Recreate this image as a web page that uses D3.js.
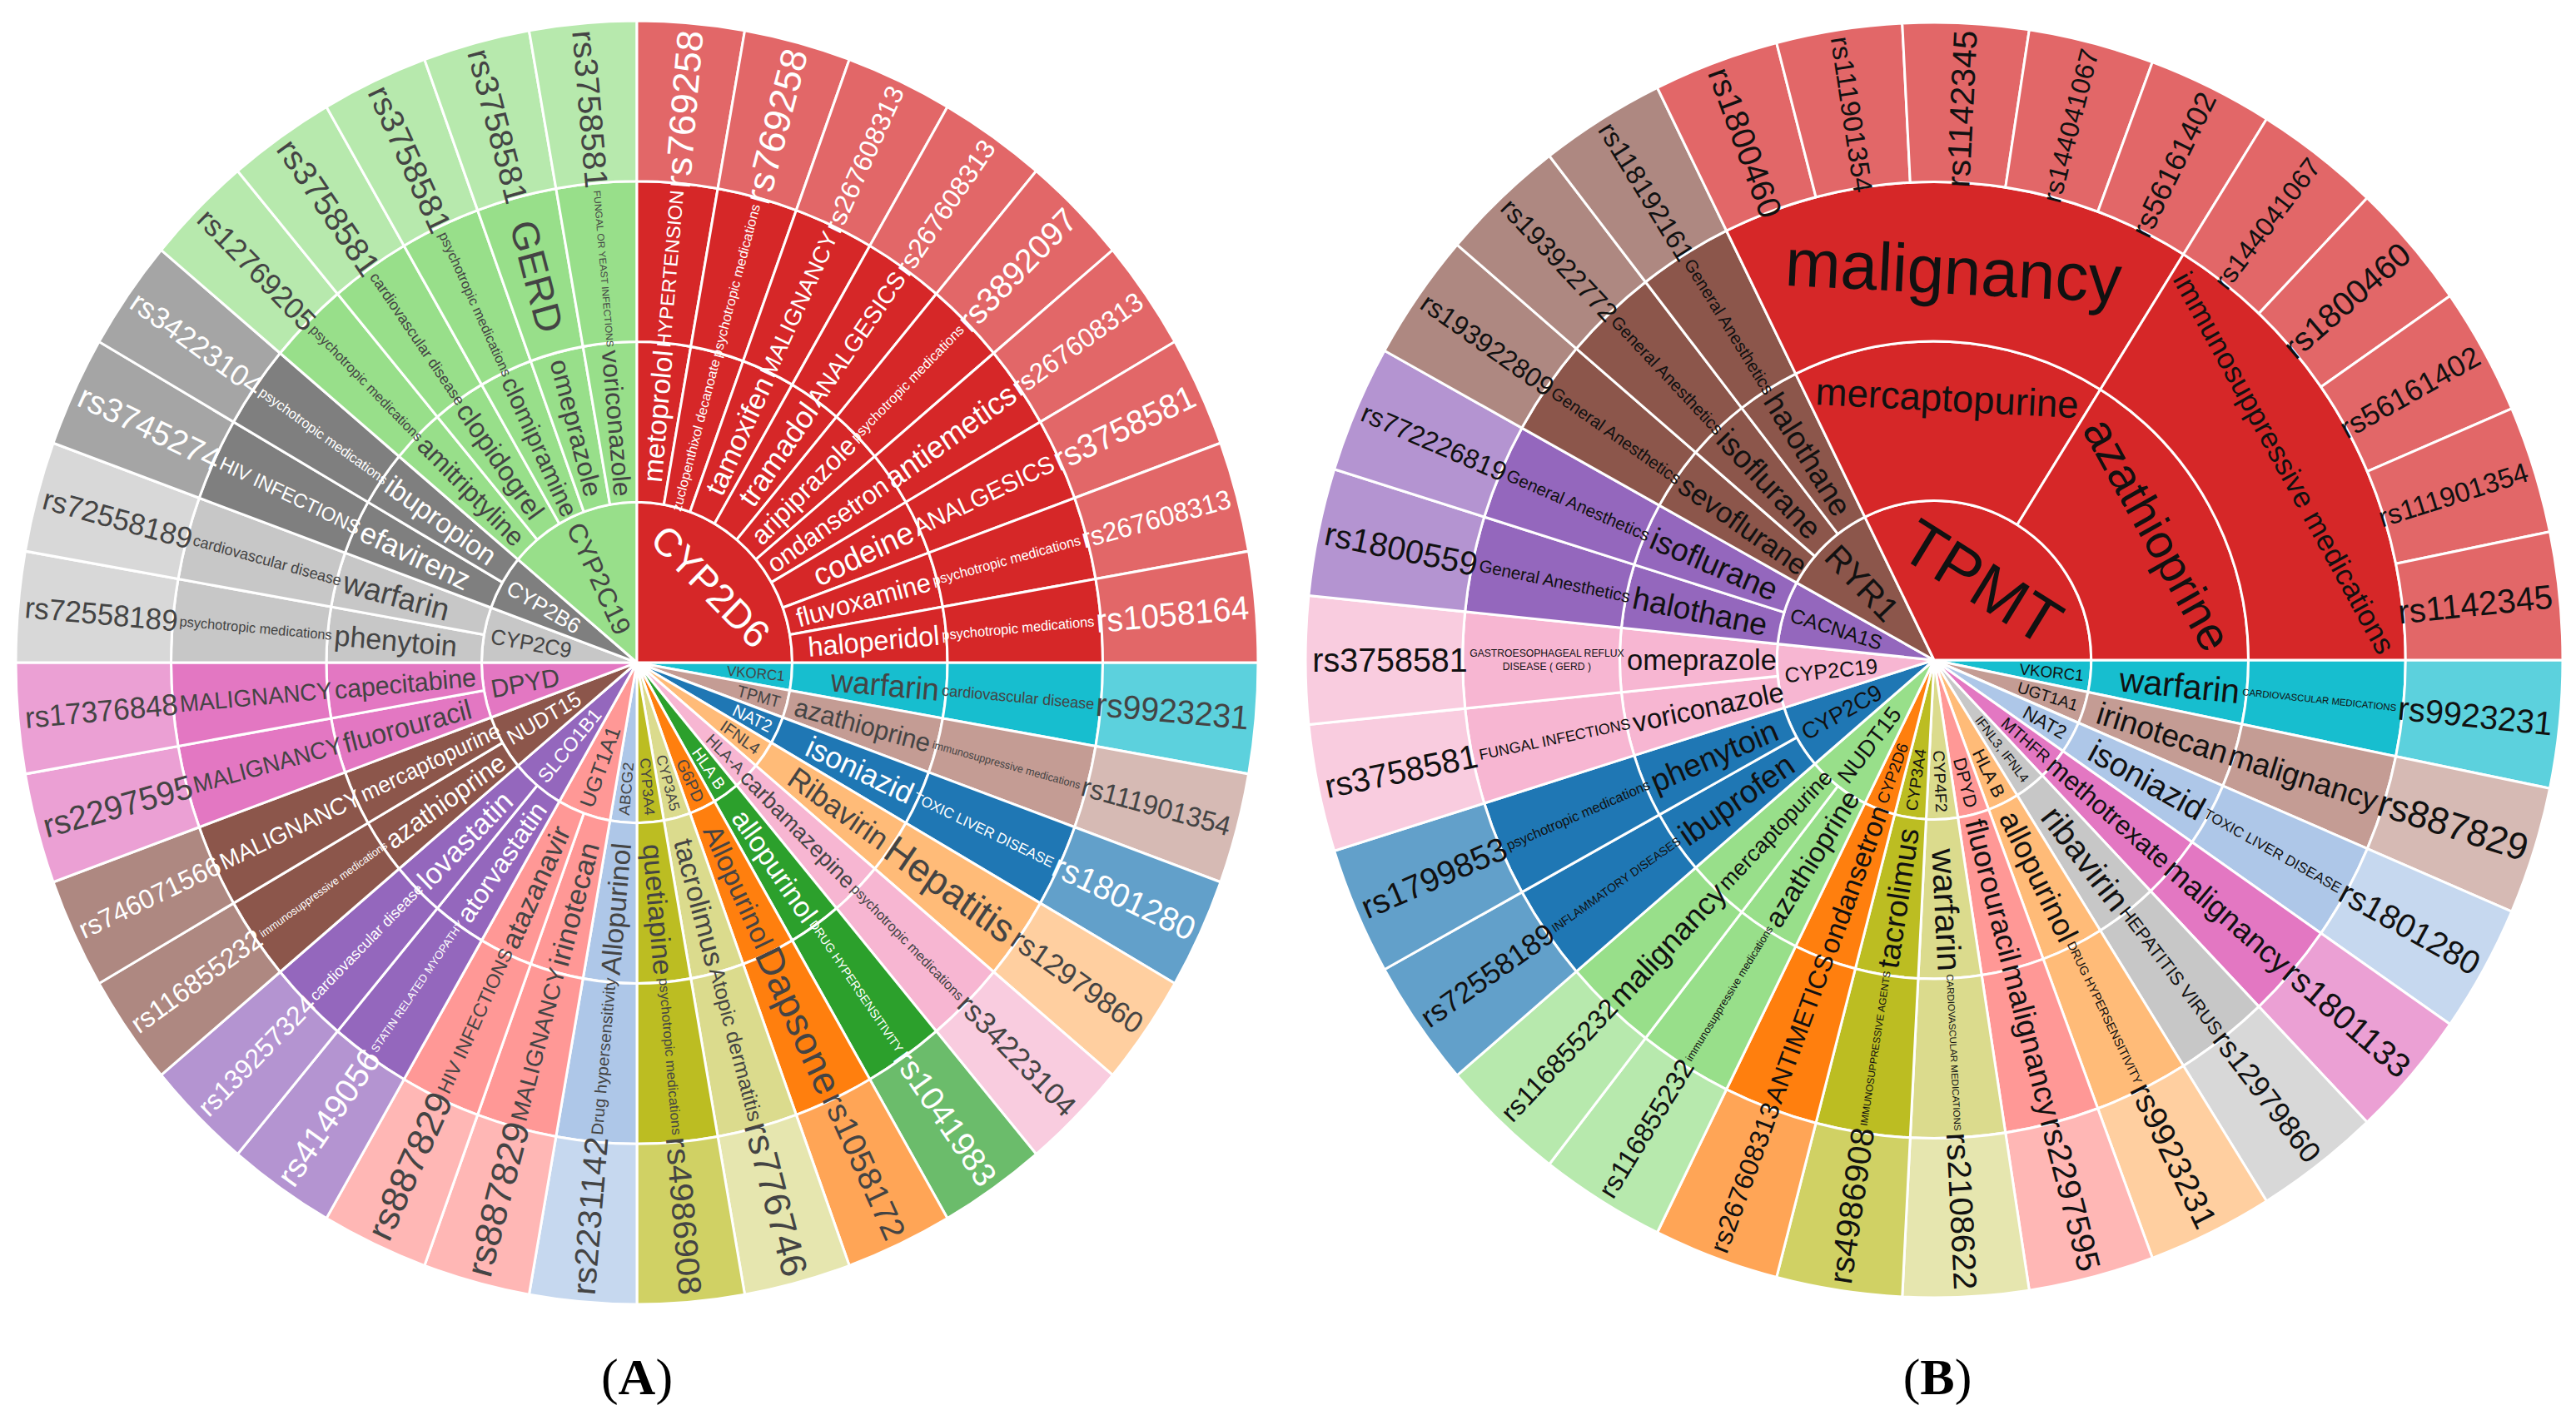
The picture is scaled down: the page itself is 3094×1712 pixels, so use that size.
<!DOCTYPE html>
<html>
<head>
<meta charset="utf-8">
<title>Pharmacogenomic sunbursts</title>
<script src="https://cdn.jsdelivr.net/npm/d3@7/dist/d3.min.js"></script>
<style>
  html, body { margin: 0; padding: 0; background: #ffffff; }
  svg { display: block; }
</style>
</head>
<body>
<svg id="fig" width="3094" height="1712" xmlns="http://www.w3.org/2000/svg"></svg>
<script>
// ---------------- Panel A : one entry per SNP leaf, clockwise from 3 o'clock ----------------
const genesA = ["VKORC1","TPMT","NAT2","IFNL4","HLA-A","HLA B","G6PD","CYP3A5","CYP3A4","ABCG2",
  "UGT1A1","UGT1A1","SLCO1B1","SLCO1B1","NUDT15","NUDT15","DPYD","DPYD","CYP2C9","CYP2C9",
  "CYP2B6","CYP2B6","CYP2C19","CYP2C19","CYP2C19","CYP2C19","CYP2C19",
  "CYP2D6","CYP2D6","CYP2D6","CYP2D6","CYP2D6","CYP2D6","CYP2D6","CYP2D6","CYP2D6"];
const drugsA = ["warfarin","azathioprine","isoniazid","Ribavirin","carbamazepine","allopurinol","Allopurinol","tacrolimus","quetiapine","Allopurinol",
  "irinotecan","atazanavir","atorvastatin","lovastatin","azathioprine","mercaptopurine","fluorouracil","capecitabine","phenytoin","warfarin",
  "efavirenz","ibupropion","amitriptyline","clopidogrel","clomipramine","omeprazole","voriconazole",
  "metoprolol","zuclopenthixol decanoate","tamoxifen","tramadol","aripiprazole","ondansetron","codeine","fluvoxamine","haloperidol"];
const diseasesA = ["cardiovascular disease","immunosuppressive medications","TOXIC LIVER DISEASE","Hepatitis","psychotropic medications","DRUG HYPERSENSITIVITY","Dapsone","Atopic dermatitis","psychotropic medications","Drug hypersensitivity",
  "MALIGNANCY","HIV INFECTIONS","STATIN RELATED MYOPATHY","cardiovascular disease","immunosuppressive medications","MALIGNANCY","MALIGNANCY","MALIGNANCY","psychotropic medications","cardiovascular disease",
  "HIV INFECTIONS","psychotropic medications","psychotropic medications","cardiovascular disease","psychotropic medications","GERD","FUNGAL OR YEAST INFECTIONS",
  "HYPERTENSION","psychotropic medications","MALIGNANCY","ANALGESICS","psychotropic medications","antiemetics","ANALGESICS","psychotropic medications","psychotropic medications"];
const snpsA = ["rs9923231","rs111901354","rs1801280","rs12979860","rs34223104","rs1041983","rs1058172","rs776746","rs4986908","rs2231142",
  "rs887829","rs887829","rs4149056","rs139257324","rs116855232","rs746071566","rs2297595","rs17376848","rs72558189","rs72558189",
  "rs3745274","rs34223104","rs12769205","rs3758581","rs3758581","rs3758581","rs3758581",
  "rs769258","rs769258","rs267608313","rs267608313","rs3892097","rs267608313","rs3758581","rs267608313","rs1058164"];

// ---------------- Panel B : one entry per SNP leaf, clockwise from 3 o'clock ----------------
const genesB = ["VKORC1","UGT1A1","NAT2","MTHFR","IFNL3, IFNL4","HLA B","DPYD","CYP4F2","CYP3A4","CYP2D6",
  "NUDT15","NUDT15","CYP2C9","CYP2C9","CYP2C19","CYP2C19","CACNA1S","CACNA1S","RYR1","RYR1","RYR1",
  "TPMT","TPMT","TPMT","TPMT","TPMT","TPMT","TPMT","TPMT","TPMT","TPMT"];
const drugsB = ["warfarin","irinotecan","isoniazid","methotrexate","ribavirin","allopurinol","fluorouracil","warfarin","tacrolimus","ondansetron",
  "azathioprine","mercaptopurine","ibuprofen","phenytoin","voriconazole","omeprazole","halothane","isoflurane","sevoflurane","isoflurane","halothane",
  "mercaptopurine","mercaptopurine","mercaptopurine","mercaptopurine","mercaptopurine",
  "azathioprine","azathioprine","azathioprine","azathioprine","azathioprine"];
const diseasesB = ["CARDIOVASCULAR MEDICATIONS","malignancy","TOXIC LIVER DISEASE","malignancy","HEPATITIS VIRUS","DRUG HYPERSENSITIVITY","malignancy","CARDIOVASCULAR MEDICATIONS","IMMUNOSUPPRESSIVE AGENTS","ANTIMETICS",
  "immunosuppressive medications","malignancy","INFLAMMATORY DISEASES","psychotropic medications","FUNGAL INFECTIONS","GASTROESOPHAGEAL REFLUX<br>DISEASE ( GERD )",
  "General Anesthetics","General Anesthetics","General Anesthetics","General Anesthetics","General Anesthetics",
  "malignancy","malignancy","malignancy","malignancy","malignancy",
  "immunosuppressive medications","immunosuppressive medications","immunosuppressive medications","immunosuppressive medications","immunosuppressive medications"];
const snpsB = ["rs9923231","rs887829","rs1801280","rs1801133","rs12979860","rs9923231","rs2297595","rs2108622","rs4986908","rs267608313",
  "rs116855232","rs116855232","rs72558189","rs1799853","rs3758581","rs3758581","rs1800559","rs772226819","rs193922809","rs193922772","rs118192161",
  "rs1800460","rs111901354","rs1142345","rs144041067","rs56161402",
  "rs144041067","rs1800460","rs56161402","rs111901354","rs1142345"];

// ---------------- styles (colour per gene) ----------------
const paletteA = {"VKORC1":"#17becf","TPMT":"#c49c94","NAT2":"#1f77b4","IFNL4":"#ffbb78","HLA-A":"#f7b6d2","HLA B":"#2ca02c",
  "G6PD":"#ff7f0e","CYP3A5":"#dbdb8d","CYP3A4":"#bcbd22","ABCG2":"#aec7e8","UGT1A1":"#ff9896","SLCO1B1":"#9467bd",
  "NUDT15":"#8c564b","DPYD":"#e377c2","CYP2C9":"#c7c7c7","CYP2B6":"#7f7f7f","CYP2C19":"#98df8a","CYP2D6":"#d62728"};
const paletteB = {"VKORC1":"#17becf","UGT1A1":"#c49c94","NAT2":"#aec7e8","MTHFR":"#e377c2","IFNL3, IFNL4":"#c7c7c7","HLA B":"#ffbb78",
  "DPYD":"#ff9896","CYP4F2":"#dbdb8d","CYP3A4":"#bcbd22","CYP2D6":"#ff7f0e","NUDT15":"#98df8a","CYP2C9":"#1f77b4",
  "CYP2C19":"#f7b6d2","CACNA1S":"#9467bd","RYR1":"#8c564b","TPMT":"#d62728"};

const FONT = '"Liberation Sans", Arial, Helvetica, sans-serif';
const ASC = 0.905, DESC = 0.212, LINE = 1.3, PAD = 4;
const mctx = document.createElement('canvas').getContext('2d');
function textWidth(s) { mctx.font = '100px ' + FONT; return mctx.measureText(s).width / 100; }

// group consecutive equal names level by level
function buildTree(genes, drugs, diseases, snps) {
  const root = { name: "root", children: [] };
  genes.forEach((g, i) => {
    let node = root;
    [g, drugs[i], diseases[i]].forEach(name => {
      const last = node.children[node.children.length - 1];
      if (last && last.name === name) node = last;
      else { const n = { name, children: [] }; node.children.push(n); node = n; }
    });
    node.children.push({ name: snps[i] });
  });
  return root;
}

// fit text inside an annular sector (radial or tangential, whichever is larger)
function fitLabel(lines, r0, r1, a0, a1, maxFont) {
  const w = d3.max(lines, textWidth);
  const h = ASC + DESC + (lines.length - 1) * LINE;
  const rr = Math.max(0, r1 - 2 * PAD);
  const ring = 1 - r0 / r1;
  const half = (a1 - a0) / 2, mid = (a0 + a1) / 2;
  const maxHalf = a => {
    const q = a + 1 / (2 * Math.tan(half));
    return rr * Math.min(1 / (Math.sqrt(q * q + 0.5) + q), ring / (Math.sqrt(a * a + ring / 2) + a));
  };
  const rot = t => ((180 / Math.PI) * t + 720) % 180 - 90;
  const aT = h / w, sT = maxHalf(aT);
  const tan = { font: 2 * sT / w, rc: Math.cos(sT / rr) - aT * sT / rr, rotate: rot(mid + Math.PI / 2) };
  const aR = w / h, sR = maxHalf(aR);
  const rad = { font: 2 * sR / h, rc: Math.cos(sR / rr) - aR * sR / rr, rotate: rot(mid) };
  const best = tan.font > rad.font ? tan : rad;
  best.font = Math.min(best.font, maxFont);
  best.x = best.rc * rr * Math.sin(mid);
  best.y = -best.rc * rr * Math.cos(mid);
  return best;
}

function brightness(c) { const k = d3.rgb(c); return (k.r * 299 + k.g * 587 + k.b * 114) / 1000; }

function drawSunburst(svg, data, palette, opt) {
  const tree = buildTree(data.genes, data.drugs, data.diseases, data.snps);
  const root = d3.hierarchy(tree).sum(d => d.children ? 0 : 1);
  d3.partition().size([2 * Math.PI, 5])(root);
  const radius = d3.scaleLinear().domain([1, 5]).range([0, opt.R]);
  const nodes = root.descendants().filter(d => d.depth > 0);
  const geneOf = d => d.ancestors().find(a => a.depth === 1).data.name;
  const arc = d3.arc()
    .startAngle(d => d.x0 + opt.rot).endAngle(d => d.x1 + opt.rot)
    .innerRadius(d => radius(d.y0)).outerRadius(d => radius(d.y1));

  const g = svg.append('g')
    .attr('transform', `translate(${opt.cx},${opt.cy}) scale(1,${opt.sy})`);

  g.append('g').selectAll('path').data(nodes).join('path')
    .attr('d', arc)
    .attr('fill', d => palette[geneOf(d)])
    .attr('fill-opacity', d => d.children ? 1 : 0.7)
    .attr('stroke', '#ffffff')
    .attr('stroke-width', 3)
    .attr('stroke-linejoin', 'round');

  const labels = g.append('g').attr('font-family', FONT);
  nodes.forEach(d => {
    const lines = d.data.name.split('<br>');
    const t = fitLabel(lines, radius(d.y0), radius(d.y1), d.x0 + opt.rot, d.x1 + opt.rot, opt.maxFont);
    const fill = opt.textColor ? opt.textColor : (brightness(palette[geneOf(d)]) < 128 ? '#ffffff' : '#444444');
    const txt = labels.append('text')
      .attr('transform', `translate(${t.x},${t.y}) rotate(${t.rotate})`)
      .attr('text-anchor', 'middle')
      .attr('font-size', t.font)
      .attr('fill', fill);
    const first = -(lines.length - 1) * LINE / 2 + (ASC - DESC) / 2;
    lines.forEach((l, i) => {
      txt.append('tspan').attr('x', 0).attr('y', (first + i * LINE) * t.font).text(l);
    });
  });
}

const svg = d3.select('#fig');
svg.append('rect').attr('width', 3094).attr('height', 1712).attr('fill', '#ffffff');

drawSunburst(svg, { genes: genesA, drugs: drugsA, diseases: diseasesA, snps: snpsA }, paletteA,
  { cx: 765, cy: 796, R: 746, sy: 771 / 746, rot: Math.PI / 2, maxFont: 46 });
drawSunburst(svg, { genes: genesB, drugs: drugsB, diseases: diseasesB, snps: snpsB }, paletteB,
  { cx: 2323, cy: 793, R: 755, sy: 766 / 755, rot: Math.PI / 2, maxFont: 80, textColor: '#111111' });

const panelNames = ["A", "B"];
const panelX = [765, 2327];
panelNames.forEach((p, i) => {
  const t = svg.append('text').attr('x', panelX[i]).attr('y', 1675)
    .attr('text-anchor', 'middle')
    .attr('font-family', '"Liberation Serif", "Times New Roman", serif')
    .attr('font-size', 62).attr('fill', '#000');
  t.append('tspan').text('(');
  t.append('tspan').attr('font-weight', 'bold').text(p);
  t.append('tspan').text(')');
});
</script>
</body>
</html>
